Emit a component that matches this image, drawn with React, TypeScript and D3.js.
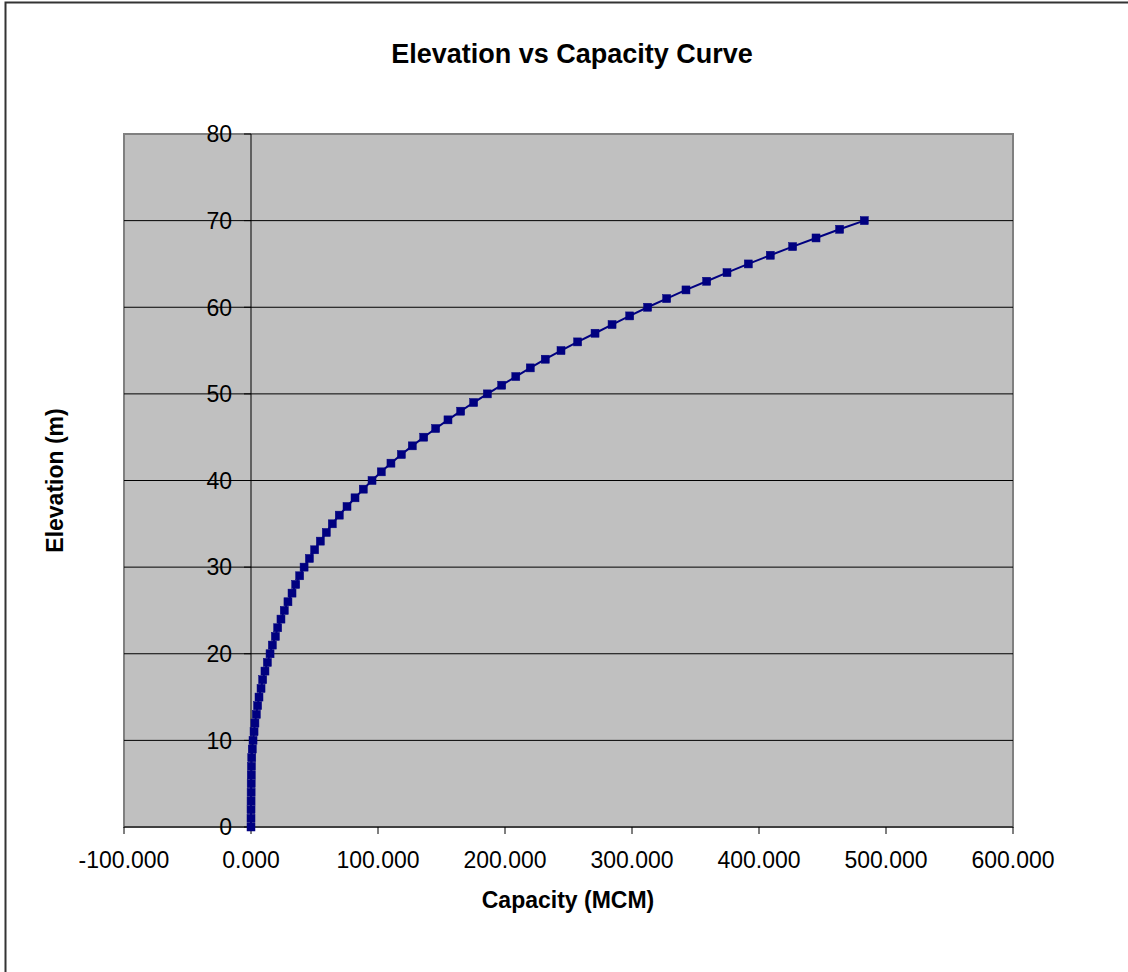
import React from "react";
import * as d3 from "d3";

const elevation: number[] = [
  0, 1, 2, 3, 4, 5, 6, 7, 8, 9, 10, 11, 12, 13, 14, 15, 16, 17, 18, 19, 20,
  21, 22, 23, 24, 25, 26, 27, 28, 29, 30, 31, 32, 33, 34, 35, 36, 37, 38, 39, 40,
  41, 42, 43, 44, 45, 46, 47, 48, 49, 50, 51, 52, 53, 54, 55, 56, 57, 58, 59, 60,
  61, 62, 63, 64, 65, 66, 67, 68, 69, 70,
];

const capacity: number[] = [
  0, 0.005, 0.02, 0.05, 0.1, 0.15, 0.22, 0.35, 0.6, 1.0, 1.6,
  2.4, 3.1, 4.2, 5.2, 6.3, 7.9, 9.2, 11.0, 12.9, 15.0,
  16.8, 19.2, 21.0, 23.6, 26.2, 29.1, 32.3, 35.2, 38.3, 41.8,
  46.0, 50.1, 54.6, 59.3, 64.0, 69.5, 75.6, 81.9, 88.4, 95.3,
  102.6, 110.2, 118.4, 127.0, 136.0, 145.4, 155.1, 165.1, 175.3, 186.1,
  197.4, 208.5, 219.9, 231.7, 244.1, 257.2, 270.9, 284.3, 298.2, 312.3,
  327.3, 342.5, 358.8, 374.8, 391.6, 408.9, 426.5, 444.9, 463.5, 482.9,
];

const xTicks: number[] = [-100, 0, 100, 200, 300, 400, 500, 600];
const yTicks: number[] = [0, 10, 20, 30, 40, 50, 60, 70, 80];

const W = 1128;
const H = 972;
const plot = { left: 124, top: 134, right: 1013, bottom: 827 };
const FONT = "'Liberation Sans', Arial, sans-serif";

export default function App() {
  const x = d3.scaleLinear().domain([-100, 600]).range([plot.left, plot.right]);
  const y = d3.scaleLinear().domain([0, 80]).range([plot.bottom, plot.top]);
  const pts = elevation.map((e, i) => [capacity[i], e] as [number, number]);
  const line = d3
    .line<[number, number]>()
    .x((d) => x(d[0]))
    .y((d) => y(d[1]));
  const ms = 8;

  return (
    <svg
      width={W}
      height={H}
      style={{ position: "absolute", left: 0, top: 0, background: "#fff" }}
      fontFamily={FONT}
    >
      <rect x={0} y={0} width={W} height={H} fill="#fff" />
      <rect x={5.5} y={2.5} width={W + 20} height={H + 20} fill="none" stroke="#333" strokeWidth={2} />
      <text x={572} y={63} textAnchor="middle" fontSize={27} fontWeight="bold" fill="#000">
        Elevation vs Capacity Curve
      </text>
      <rect
        x={plot.left}
        y={plot.top}
        width={plot.right - plot.left}
        height={plot.bottom - plot.top}
        fill="#C0C0C0"
        stroke="#808080"
        strokeWidth={2}
      />
      {yTicks
        .filter((t) => t > 0 && t < 80)
        .map((t) => (
          <line key={"g" + t} x1={plot.left} x2={plot.right} y1={y(t)} y2={y(t)} stroke="#000" strokeWidth={1} />
        ))}
      <line x1={x(0)} x2={x(0)} y1={plot.top} y2={plot.bottom} stroke="#000" strokeWidth={1} />
      <line x1={plot.left} x2={plot.right} y1={plot.bottom} y2={plot.bottom} stroke="#000" strokeWidth={1} />
      {yTicks.map((t) => (
        <g key={"y" + t}>
          <line x1={x(0) - 7} x2={x(0)} y1={y(t)} y2={y(t)} stroke="#000" strokeWidth={1} />
          <text x={232} y={y(t)} dy="0.36em" textAnchor="end" fontSize={23} fill="#000">
            {t}
          </text>
        </g>
      ))}
      {xTicks.map((t) => (
        <g key={"x" + t}>
          <line x1={x(t)} x2={x(t)} y1={plot.bottom} y2={plot.bottom + 7} stroke="#000" strokeWidth={1} />
          <text x={x(t)} y={868} textAnchor="middle" fontSize={23} fill="#000">
            {t.toFixed(3)}
          </text>
        </g>
      ))}
      <path d={line(pts) || ""} fill="none" stroke="#000080" strokeWidth={2} />
      {pts.map((p, i) => (
        <rect
          key={"m" + i}
          x={x(p[0]) - ms / 2}
          y={y(p[1]) - ms / 2}
          width={ms}
          height={ms}
          fill="#000080"
          stroke="#000080"
          strokeWidth={0.5}
        />
      ))}
      <text x={568} y={908} textAnchor="middle" fontSize={23} fontWeight="bold" fill="#000">
        Capacity (MCM)
      </text>
      <text
        transform={`translate(63,${(plot.top + plot.bottom) / 2}) rotate(-90)`}
        textAnchor="middle"
        fontSize={23}
        fontWeight="bold"
        fill="#000"
      >
        Elevation (m)
      </text>
    </svg>
  );
}
